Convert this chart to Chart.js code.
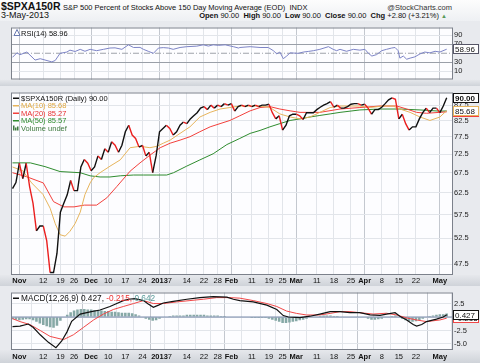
<!DOCTYPE html>
<html>
<head>
<meta charset="utf-8">
<script src="https://cdn.jsdelivr.net/npm/chart.js@4.4.0/dist/chart.umd.min.js"></script>
<style>
body { margin: 0; width: 480px; height: 363px; background: #e8eaee; position: relative; overflow: hidden; font-family: "Liberation Sans", Arial, sans-serif; }
canvas { position: absolute; left: 0; }
.t { position: absolute; white-space: nowrap; color: #111; line-height: 1; }
#hdr { position: absolute; left: 0; top: 0; width: 480px; height: 21px; background: linear-gradient(#fdfdfd, #eef0f3); }
</style>
</head>
<body>
<div id="hdr"></div>
<span class="t" style="left:1px;top:1px;font-size:10.5px;font-weight:bold">$SPXA150R</span>
<span class="t" style="left:63px;top:3.6px;font-size:7.5px">S&amp;P 500 Percent of Stocks Above 150 Day Moving Average (EOD)&nbsp; INDX</span>
<span class="t" style="right:28px;top:3.6px;font-size:7.5px;color:#333">@StockCharts.com</span>
<span class="t" style="left:1px;top:10.8px;font-size:9px">3-May-2013</span>
<span class="t" style="right:33px;top:12px;font-size:7.5px"><b>Open</b> 90.00 &nbsp;<b>High</b> 90.00 &nbsp;<b>Low</b> 90.00 &nbsp;<b>Close</b> 90.00 &nbsp;<b>Chg</b> +2.80 (+3.21%) <span style="color:#5a9a5a;font-size:6px">▲</span></span>

<canvas id="rsi" width="480" height="65" style="top:21px"></canvas>
<canvas id="main" width="480" height="200" style="top:86px"></canvas>
<canvas id="macd" width="480" height="77" style="top:286px"></canvas>

<script>
// x axis: trading day index, 0 = 26-Oct-2012 ... 127 = 3-May-2013
const tickDays = [2, 9, 14, 18, 23, 28, 33, 38, 43, 46, 51, 56, 60, 64, 70, 75, 79, 83, 89, 94, 99, 103, 108, 113, 118, 125];
const tickLabels = ['Nov', '12', '19', '26', 'Dec', '10', '17', '24', '2013', '7', '14', '22', '28', 'Feb', '11', '19', '25', 'Mar', '11', '18', '25', 'Apr', '8', '15', '22', 'May'];
const monthLabels = ['Nov', 'Dec', '2013', 'Feb', 'Mar', 'Apr', 'May'];

// $SPXA150R daily close
const closeVals = [
  63.5, 65, 70, 66, 70, 64, 60, 54, 55, 55,
  52, 46, 46, 49.5, 58, 60, 62, 65.5, 63, 63,
  69, 71, 70, 68, 69, 72, 71, 74, 73, 76,
  75, 73, 75, 79, 81, 78, 77, 74.5, 75, 72,
  73, 67.5, 72, 79, 80, 81, 80, 78, 79, 81,
  82, 81.5, 83, 84, 85, 86.5, 87, 86, 87.5, 86.5,
  87.5, 87, 88, 87.5, 88, 85.5, 87, 87.5, 87, 87.5,
  87, 87.5, 87, 87.5, 87.5, 87.8, 85, 83, 84, 79.5,
  81, 84, 84.5, 84.5, 84, 82.8, 85, 85, 85, 86,
  86.8, 87.5, 88, 88.7, 86.8, 87.5, 86.5, 86.5, 87, 87.8,
  88, 88, 87.5, 87.8, 86.5, 84.5, 86, 86, 86.8, 88,
  89.3, 90, 89.5, 83, 84.5, 81.5, 79.5, 80.5, 80.5, 83,
  85, 86.5, 85, 86.5, 86.5, 85, 87.2, 90
];

const ma10Days = [0, 3, 5.6, 8.9, 11, 12.5, 13.9, 15.4, 16.8, 18.3, 19.8, 21.2, 22.7, 23.7, 25.6, 28.5, 31.5, 34.4, 37.3, 40.2, 42.2, 44.1, 46.1, 49, 51.9, 54.8, 57.8, 60.7, 63.6, 66.5, 72.4, 75.3, 78.2, 81.2, 84.1, 87, 89.9, 92.9, 95.8, 101.6, 104.6, 108.4, 111.3, 113.3, 116.3, 119.2, 122.1, 125, 127];
const ma10Vals = [69, 68, 64.9, 62.1, 58.9, 55.5, 53.2, 52.9, 53.9, 55.5, 58, 62.1, 64.9, 66.2, 67.5, 69.2, 70.9, 74.3, 74.7, 74.3, 74.7, 75.6, 76.5, 78.5, 80.5, 83.6, 85.1, 86.2, 86.7, 87.2, 87.2, 86.7, 84.6, 83.6, 83, 83.6, 85.1, 86.7, 87.2, 87.2, 86.7, 87.2, 87.2, 86.2, 85.1, 83.6, 82.5, 83.6, 85.68];

const ma20Days = [0, 4, 9, 12, 15, 18, 21, 24.6, 27.6, 30.5, 34.4, 37.3, 40.2, 43.2, 46.1, 49, 51.9, 54.8, 57.8, 60.7, 63.6, 66.5, 69.5, 72.4, 75.3, 78.2, 81.2, 84.1, 89.9, 95.8, 101.6, 107.5, 112.4, 115.3, 118.2, 121.1, 127];
const ma20Vals = [67.5, 66.5, 64.9, 60.4, 59.2, 59.2, 59.6, 59.6, 61.3, 64, 67.9, 70.1, 72.2, 74.3, 75.6, 76.5, 77.5, 79, 80.5, 81.5, 82.5, 84, 85.6, 86.7, 87, 86.2, 85.6, 85.1, 85.1, 86.2, 86.7, 87.2, 87.2, 86.2, 85.1, 84.8, 85.27];

const ma50Days = [0, 5.2, 9.5, 13.9, 19.8, 22.7, 25.6, 28.5, 31.5, 35.4, 38.3, 42.2, 45.1, 47.1, 50.9, 54.8, 58.7, 62.7, 66.5, 69.5, 72.4, 75.3, 78.2, 81.2, 84.1, 87, 89.9, 92.9, 95.8, 101.6, 107.5, 113.3, 119.2, 125, 127];
const ma50Vals = [70.1, 70.1, 69.1, 67.8, 67.5, 66.7, 66.4, 66.4, 66.7, 66.9, 66.9, 66.9, 66.9, 67.5, 69.2, 70.9, 72.6, 75.2, 77, 78.5, 79.4, 80.5, 81.5, 82.5, 83, 83.6, 84.1, 84.6, 85.1, 85.9, 86.2, 86.2, 85.9, 85.5, 85.57];

const rsiDays = [0, 1.3, 2.2, 4.2, 6.6, 8.1, 11.5, 12.5, 13.9, 15.9, 16.8, 18.3, 19.8, 21.2, 22.7, 24.6, 26.6, 28.5, 30, 32, 33.9, 35.4, 37.3, 38.3, 39.7, 41.2, 42.7, 44.1, 45.6, 47, 49, 51, 53.9, 55.8, 57.3, 58.7, 60.2, 62.2, 64.6, 66.1, 66.5, 69.5, 72.4, 74.8, 76.3, 77.3, 78.2, 79.2, 80.2, 81.2, 83.6, 85.1, 86.5, 88, 89.9, 92.4, 93.8, 94.8, 95.8, 97.7, 99.7, 101.6, 103.1, 104.1, 105.1, 106.5, 108, 109.4, 110.9, 111.9, 112.8, 113.3, 114.3, 115.3, 116.3, 117.7, 119.2, 120.6, 122.1, 123.6, 125, 127];
const rsiVals = [41, 51, 46.8, 52.7, 34.9, 37.9, 30.8, 34, 49.8, 52.7, 56.9, 53.9, 58.7, 54.4, 58.7, 55.7, 58.7, 61.6, 62, 58.7, 68.7, 62.8, 63, 58.7, 54.4, 49.8, 61.6, 62.5, 61.6, 58.7, 62.8, 64.6, 65.8, 68.7, 66, 68.7, 67.5, 68.7, 64.6, 61.6, 62.8, 64.6, 62.8, 62.8, 55.7, 48.6, 52.7, 37.9, 43.8, 50.9, 49.8, 52.7, 54, 55.7, 58.7, 64.6, 58.7, 55.7, 58.7, 54.4, 58.7, 56.9, 58.7, 49.8, 43.8, 47, 55.7, 58.7, 61.6, 62.8, 55.7, 39.2, 43.8, 36.7, 39.2, 42, 48.6, 52.7, 50.9, 54.4, 52.7, 58.96];

const macdDays = [0, 2.2, 4.6, 6.1, 8.1, 10.5, 12.7, 14.4, 15.9, 17.3, 19.8, 22.7, 25.6, 28.5, 30.5, 32.4, 33.9, 35.8, 38.3, 39.7, 41.2, 42.7, 44.1, 47, 51, 54.8, 58.7, 62.7, 64.6, 66.5, 70.4, 74.4, 77.3, 79.2, 80.7, 84.1, 87, 89.9, 92.9, 95.8, 98.7, 101.6, 104.6, 107.5, 109.4, 111.9, 113.3, 115.3, 117.2, 118.2, 119.7, 121.1, 124, 126, 127];
const macdVals = [-1.8, -1.7, -1.3, -1.95, -3.3, -4.7, -5.7, -4.45, -2.8, -0.8, 0.55, 0.95, 1.3, 1.95, 2.5, 3.05, 3.3, 3.4, 3.05, 2.4, 1.8, 2.2, 2.6, 2.9, 3.3, 3.6, 3.8, 3.7, 3.3, 3.05, 2.8, 2.2, 1.4, 0.27, 0, -0.1, 0.15, 0.55, 1, 1, 0.8, 0.8, 0.4, 0.3, 0.55, 0.8, 0.15, -0.55, -1.4, -1.67, -1.4, -0.85, -0.4, 0, 0.427];

const signalDays = [0, 2.2, 5.1, 8.1, 11, 14.9, 17.8, 20.7, 23.7, 26.6, 29.5, 32.4, 35.4, 38.3, 41.2, 44.1, 48, 51.9, 55.8, 59.7, 63.6, 66.5, 70.4, 74.4, 77.3, 80.2, 83.1, 86, 89.9, 92.9, 95.8, 98.7, 101.6, 105.5, 109.4, 112.4, 115.3, 118.2, 121.1, 125, 127];
const signalVals = [-0.3, -0.85, -1.4, -2.5, -3.6, -4.2, -3.3, -1.95, -0.55, 0.55, 1.4, 1.95, 2.5, 3.05, 2.5, 2.5, 2.8, 3.05, 3.3, 3.6, 3.6, 3.5, 3.05, 2.5, 1.95, 1.1, 0.67, 0.38, 0.38, 0.67, 1, 1, 0.8, 0.55, 0.7, 0.38, -0.17, -0.55, -0.85, -0.55, -0.215];

const histVals = [
  -0.4, -0.5, -0.6, -0.5, -0.4, -0.4,
  -0.6, -0.9, -1.2, -1.5, -1.7, -1.9, -2.0, -1.6,
  -0.7, -0.1, 0.4, 0.9,
  1.2, 1.4, 1.5, 1.5, 1.4, 1.4, 1.3, 1.3, 1.2,
  1.1, 1.1, 1.0, 1.0, 0.9, 0.8, 0.8,
  0.8, 0.7, 0.5, 0.3, 0.1,
  -0.3, -0.5, -0.7, -0.6, -0.3,
  -0.1, 0.1, 0.2, 0.3, 0.3, 0.3, 0.3, 0.4, 0.4, 0.4, 0.4, 0.4, 0.4, 0.3, 0.3, 0.3, 0.3,
  0.2, 0.2, 0.1, 0.1, 0.0, 0.0, -0.1, -0.1, -0.1, -0.2, -0.2, -0.2, -0.2, -0.2, -0.3,
  -0.5, -0.7, -0.9, -1.1, -1.1, -1.0, -0.9, -0.8, -0.6, -0.5,
  -0.3, -0.1, 0.0, 0.1, 0.2,
  0.3, 0.3, 0.3, 0.2, 0.2, 0.1, 0.1, 0.1, 0.1, 0.1, 0.0, 0.0, -0.1,
  -0.3, -0.5, -0.5, -0.4, -0.3, -0.1, 0.1,
  0.2, 0.3, 0.1,
  -0.3, -0.6, -0.8, -0.9, -0.8, -0.6, -0.3,
  0.0, 0.2, 0.3, 0.4, 0.5, 0.5, 0.64
];

const mainTicks = [47.5, 50, 52.5, 55, 57.5, 60, 62.5, 65, 67.5, 70, 72.5, 75, 77.5, 80, 82.5, 85, 87.5, 90];
const rsiTicks = [10, 30, 50, 70, 90];
const macdTicks = [-5, -2.5, 0, 2.5];

const FONT = 'Liberation Sans';
const pts = (days, vals) => days.map((d, i) => ({ x: d, y: vals[i] }));

function xScale(labelHeight) {
  return {
    type: 'linear', min: -0.15, max: 128.55, offset: false,
    afterBuildTicks: s => { s.ticks = tickDays.map(v => ({ value: v })); },
    afterFit: s => { s.height = labelHeight; },
    grid: {
      drawTicks: false,
      color: c => (c.tick && monthLabels.includes(tickLabels[tickDays.indexOf(c.tick.value)])) ? '#c4c8cf' : '#e2e5ea'
    },
    border: { display: false },
    ticks: {
      display: labelHeight > 0, autoSkip: false, maxRotation: 0, padding: labelHeight > 11 ? 2 : 1, color: '#111',
      callback: v => tickLabels[tickDays.indexOf(v)],
      font: c => ({ family: FONT, size: 7.5, weight: monthLabels.includes(tickLabels[c.index]) ? 'bold' : 'normal' })
    }
  };
}

function yScale(type, min, max, ticks, fmt, gridColor) {
  return {
    type: type, position: 'right', min: min, max: max,
    afterBuildTicks: s => { s.ticks = ticks.map(v => ({ value: v })); },
    afterFit: s => { s.width = 28; },
    grid: { drawTicks: false, color: gridColor || '#e2e5ea' },
    border: { display: false },
    ticks: { padding: 2, color: '#222', font: { family: FONT, size: 7.5 }, callback: fmt }
  };
}

// panel background, label band, frame, value tags and legend text
const panelPlugin = {
  id: 'panel',
  beforeDraw(chart) {
    const { ctx, chartArea: a } = chart;
    ctx.save();
    ctx.fillStyle = '#fdfdff';
    ctx.fillRect(a.left, a.top, a.right - a.left, a.bottom - a.top);
    if (chart.height - a.bottom > 2) {
      const g = ctx.createLinearGradient(0, a.bottom, 0, chart.height);
      g.addColorStop(0, '#e6e8ec');
      g.addColorStop(1, '#cfd3d9');
      ctx.fillStyle = g;
      ctx.fillRect(0, a.bottom, chart.width, chart.height - a.bottom);
    }
    ctx.restore();
  },
  afterDraw(chart) {
    const { ctx, chartArea: a } = chart;
    ctx.save();
    ctx.strokeStyle = '#7c818b';
    ctx.lineWidth = 1;
    ctx.strokeRect(a.left - 0.5, a.top + 0.5, a.right - a.left + 1, a.bottom - a.top - 1);
    const o = chart.options.plugins.panel || {};
    (o.tags || []).forEach(t => {
      const y = Math.round(chart.scales.y.getPixelForValue(t.value));
      ctx.fillStyle = '#fff';
      ctx.fillRect(a.right + 1, y - 5, 26, 10);
      ctx.strokeStyle = t.border;
      ctx.strokeRect(a.right + 1.5, y - 4.5, 25, 9);
      ctx.fillStyle = '#111';
      ctx.font = (t.bold ? 'bold ' : '') + '8px ' + FONT;
      ctx.textBaseline = 'middle';
      ctx.textAlign = 'left';
      ctx.fillText(t.text, a.right + 3, y + 0.5);
    });
    ctx.font = (o.legendSize || 7.5) + 'px ' + FONT;
    ctx.textBaseline = 'alphabetic';
    ctx.textAlign = 'left';
    (o.legend || []).forEach((l, i) => {
      const y = a.top + 8 + i * 7.5;
      let x = a.left + 9;
      if (l.icon === 'bar') {
        ctx.fillStyle = l.color;
        ctx.fillRect(a.left + 1, y - 5, 1.5, 5);
        ctx.fillRect(a.left + 3, y - 3, 1.5, 3);
        ctx.fillRect(a.left + 5, y - 4, 1.5, 4);
      } else if (l.icon === 'tri') {
        ctx.strokeStyle = l.color;
        ctx.beginPath();
        ctx.moveTo(a.left + 2, y);
        ctx.lineTo(a.left + 5, y - 6);
        ctx.lineTo(a.left + 8, y);
        ctx.closePath();
        ctx.stroke();
      } else {
        ctx.fillStyle = l.color;
        ctx.fillRect(a.left + 1, y - 3, 6, 1.5);
      }
      l.parts.forEach(p => {
        ctx.fillStyle = p[1];
        ctx.fillText(p[0], x, y);
        x += ctx.measureText(p[0]).width;
      });
    });
    ctx.restore();
  }
};
Chart.register(panelPlugin);

const common = {
  responsive: false, animation: false, events: [],
  layout: { padding: { left: 12, right: 0, top: 0, bottom: 0 } },
  elements: { point: { radius: 0 }, line: { tension: 0 } }
};

// RSI panel
new Chart(document.getElementById('rsi'), {
  type: 'line',
  data: {
    datasets: [
      { data: pts(rsiDays, rsiVals), borderColor: '#7d84c6', borderWidth: 1 },
      { data: [{ x: -0.15, y: 50 }, { x: 128.55, y: 50 }], borderColor: '#9ea3ab', borderWidth: 1, borderDash: [6, 2, 1, 2] }
    ]
  },
  options: Object.assign({}, common, {
    scales: {
      x: xScale(0),
      y: yScale('linear', -8.3, 107.2, rsiTicks, v => v === 50 ? '' : String(v),
        c => (c.tick && (c.tick.value === 30 || c.tick.value === 70)) ? '#9a9fa8' : (c.tick && c.tick.value === 50 ? 'rgba(0,0,0,0)' : '#e2e5ea'))
    },
    plugins: {
      legend: { display: false }, tooltip: { enabled: false },
      panel: {
        tags: [{ value: 58.96, text: '58.96', border: '#556' }],
        legend: [{ icon: 'tri', color: '#6a7ab0', parts: [['RSI(14) 58.96', '#111']] }]
      }
    }
  })
});

// price panel
new Chart(document.getElementById('main'), {
  type: 'line',
  data: {
    datasets: [
      {
        data: closeVals.map((v, i) => ({ x: i, y: v })), borderWidth: 1.4, borderColor: '#111',
        segment: { borderColor: c => c.p1.parsed.y < c.p0.parsed.y ? '#ea1f1f' : '#111' }
      },
      { data: pts(ma10Days, ma10Vals), borderColor: '#e6b45c', borderWidth: 1 },
      { data: pts(ma20Days, ma20Vals), borderColor: '#f2403c', borderWidth: 1 },
      { data: pts(ma50Days, ma50Vals), borderColor: '#2f8c2f', borderWidth: 1 }
    ]
  },
  options: Object.assign({}, common, {
    scales: {
      x: xScale(11),
      y: yScale('logarithmic', 45.57, 91.85, mainTicks, v => v.toFixed(1))
    },
    plugins: {
      legend: { display: false }, tooltip: { enabled: false },
      panel: {
        tags: [
          { value: 85.27, text: '85.27', border: '#f2403c' },
          { value: 85.68, text: '85.68', border: '#e6b45c' },
          { value: 90, text: '90.00', border: '#111', bold: true }
        ],
        legend: [
          { color: '#111', parts: [['$SPXA150R (Daily) 90.00', '#111']] },
          { color: '#e6b45c', parts: [['MA(10) 85.68', '#e0a840']] },
          { color: '#f2403c', parts: [['MA(20) 85.27', '#e83030']] },
          { color: '#2f8c2f', parts: [['MA(50) 85.57', '#2f8c2f']] },
          { icon: 'bar', color: '#3f7a3f', parts: [['Volume undef', '#3f7a3f']] }
        ]
      }
    }
  })
});

// MACD panel
new Chart(document.getElementById('macd'), {
  type: 'line',
  data: {
    datasets: [
      { data: pts(macdDays, macdVals), borderColor: '#111', borderWidth: 1.2 },
      { data: pts(signalDays, signalVals), borderColor: '#f04848', borderWidth: 1 },
      { data: [{ x: -0.15, y: 0 }, { x: 128.55, y: 0 }], borderColor: '#7487a8', borderWidth: 1 },
      {
        type: 'bar', data: histVals.map((v, i) => ({ x: i, y: v })),
        backgroundColor: '#86a8a6', borderWidth: 0, barPercentage: 1, categoryPercentage: 0.75
      }
    ]
  },
  options: Object.assign({}, common, {
    scales: {
      x: xScale(13),
      y: yScale('linear', -6.12, 4.55, macdTicks, v => v === 0 ? '' : v.toFixed(1))
    },
    plugins: {
      legend: { display: false }, tooltip: { enabled: false },
      panel: {
        legendSize: 8.3,
        tags: [
          { value: -0.215, text: '-0.215', border: '#f04848' },
          { value: 0.427, text: '0.427', border: '#111' }
        ],
        legend: [
          { color: '#111', parts: [['MACD(12,26,9) 0.427, ', '#111'], ['-0.215, ', '#ee3333'], ['0.642', '#5b9c9a']] }
        ]
      }
    }
  })
});
</script>
</body>
</html>
